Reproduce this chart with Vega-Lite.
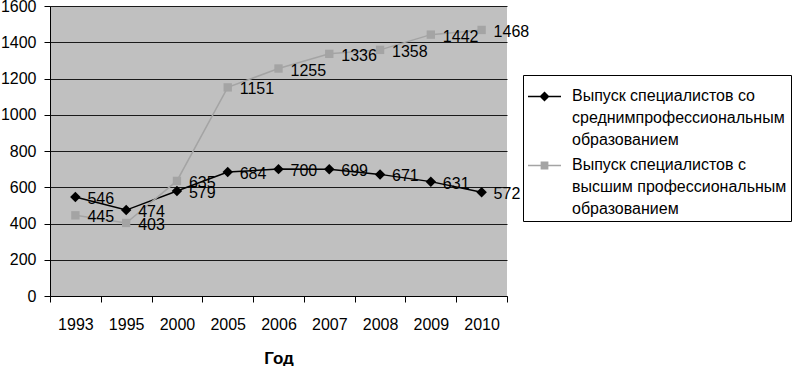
{
  "$schema": "https://vega.github.io/schema/vega-lite/v6.json",
  "autosize": {"type": "none"},
  "width": 457,
  "height": 290,
  "padding": {"left": 50, "top": 6, "right": 298, "bottom": 70},
  "background": "white",
  "config": {
    "font": "Liberation Sans",
    "view": {"fill": "#c0c0c0", "stroke": null},
    "axis": {"labelFont": "Liberation Sans", "labelFontSize": 16, "labelColor": "#000", "domainColor": "#000", "tickColor": "#000", "gridColor": "#1a1a1a", "gridOpacity": 1}
  },
  "data": {"values": [
    {"year": "1993", "series": "Выпуск специалистов со среднимпрофессиональным образованием", "value": 546},
    {"year": "1995", "series": "Выпуск специалистов со среднимпрофессиональным образованием", "value": 474},
    {"year": "2000", "series": "Выпуск специалистов со среднимпрофессиональным образованием", "value": 579},
    {"year": "2005", "series": "Выпуск специалистов со среднимпрофессиональным образованием", "value": 684},
    {"year": "2006", "series": "Выпуск специалистов со среднимпрофессиональным образованием", "value": 700},
    {"year": "2007", "series": "Выпуск специалистов со среднимпрофессиональным образованием", "value": 699},
    {"year": "2008", "series": "Выпуск специалистов со среднимпрофессиональным образованием", "value": 671},
    {"year": "2009", "series": "Выпуск специалистов со среднимпрофессиональным образованием", "value": 631},
    {"year": "2010", "series": "Выпуск специалистов со среднимпрофессиональным образованием", "value": 572},
    {"year": "1993", "series": "Выпуск специалистов с высшим профессиональным образованием", "value": 445},
    {"year": "1995", "series": "Выпуск специалистов с высшим профессиональным образованием", "value": 403},
    {"year": "2000", "series": "Выпуск специалистов с высшим профессиональным образованием", "value": 635},
    {"year": "2005", "series": "Выпуск специалистов с высшим профессиональным образованием", "value": 1151},
    {"year": "2006", "series": "Выпуск специалистов с высшим профессиональным образованием", "value": 1255},
    {"year": "2007", "series": "Выпуск специалистов с высшим профессиональным образованием", "value": 1336},
    {"year": "2008", "series": "Выпуск специалистов с высшим профессиональным образованием", "value": 1358},
    {"year": "2009", "series": "Выпуск специалистов с высшим профессиональным образованием", "value": 1442},
    {"year": "2010", "series": "Выпуск специалистов с высшим профессиональным образованием", "value": 1468}
  ]},
  "encoding": {
    "x": {
      "field": "year", "type": "ordinal", "bandPosition": 0.5,
      "scale": {"type": "band", "paddingInner": 0, "paddingOuter": 0},
      "axis": {"title": "Год", "titleFont": "Liberation Sans", "titleFontSize": 17, "titleFontWeight": "bold", "titleColor": "#000", "titlePadding": 18, "labelAngle": 0, "tickBand": "extent", "tickSize": 6, "labelPadding": 14, "grid": false}
    },
    "y": {
      "field": "value", "type": "quantitative",
      "scale": {"domain": [0, 1600], "nice": false},
      "axis": {"title": null, "format": "d", "values": [0, 200, 400, 600, 800, 1000, 1200, 1400, 1600], "tickSize": 6, "labelPadding": 8, "grid": true}
    }
  },
  "layer": [
    {
      "mark": {"type": "line", "interpolate": "linear", "strokeWidth": 1.5},
      "encoding": {
        "color": {
          "field": "series", "type": "nominal",
          "scale": {"domain": ["Выпуск специалистов со среднимпрофессиональным образованием", "Выпуск специалистов с высшим профессиональным образованием"], "range": ["#000000", "#a4a4a4"]},
          "legend": {
            "orient": "none", "legendX": 473, "legendY": 69, "title": null,
            "strokeColor": "#000", "fillColor": "#fff", "padding": 4,
            "labelFont": "Liberation Sans", "labelFontSize": 16, "labelColor": "#000", "labelLimit": 400, "labelOffset": 10,
            "symbolSize": 1089, "symbolStrokeWidth": 1.5, "rowPadding": -4,
            "labelExpr": "indexof(datum.label, 'со ') >= 0 ? ['Выпуск специалистов со', 'среднимпрофессиональным', 'образованием'] : ['Выпуск специалистов с', 'высшим профессиональным', 'образованием']",
            "encode": {
              "symbols": {"update": {
                "shape": {"signal": "indexof(datum.value, 'со ') >= 0 ? 'M-1,0L1,0M0,-0.24L0.24,0L0,0.24L-0.24,0Z' : 'M-1,0L1,0M-0.19,-0.19L0.19,-0.19L0.19,0.19L-0.19,0.19Z'"},
                "fill": {"signal": "indexof(datum.value, 'со ') >= 0 ? '#000' : '#a4a4a4'"},
                "stroke": {"signal": "indexof(datum.value, 'со ') >= 0 ? '#000' : '#a4a4a4'"},
                "size": {"value": 1089},
                "strokeWidth": {"value": 1.5},
                "fillOpacity": {"value": 1},
                "strokeOpacity": {"value": 1}
              }},
              "labels": {"update": {"lineHeight": {"value": 22}, "baseline": {"value": "top"}, "dy": {"value": -9}}}
            }
          }
        }
      }
    },
    {
      "transform": [{"filter": "indexof(datum.series, 'со ') >= 0"}],
      "mark": {"type": "point", "shape": "diamond", "size": 110, "filled": true, "opacity": 1, "color": "#000000"},
      "encoding": {}
    },
    {
      "transform": [{"filter": "indexof(datum.series, 'со ') < 0"}],
      "mark": {"type": "point", "shape": "square", "size": 70, "filled": true, "opacity": 1, "color": "#a4a4a4"},
      "encoding": {}
    },
    {
      "mark": {"type": "text", "align": "left", "baseline": "middle", "dx": 12, "dy": 2, "fontSize": 16, "font": "Liberation Sans", "color": "#000"},
      "encoding": {
        "text": {"field": "value", "type": "quantitative"}
      }
    }
  ]
}
